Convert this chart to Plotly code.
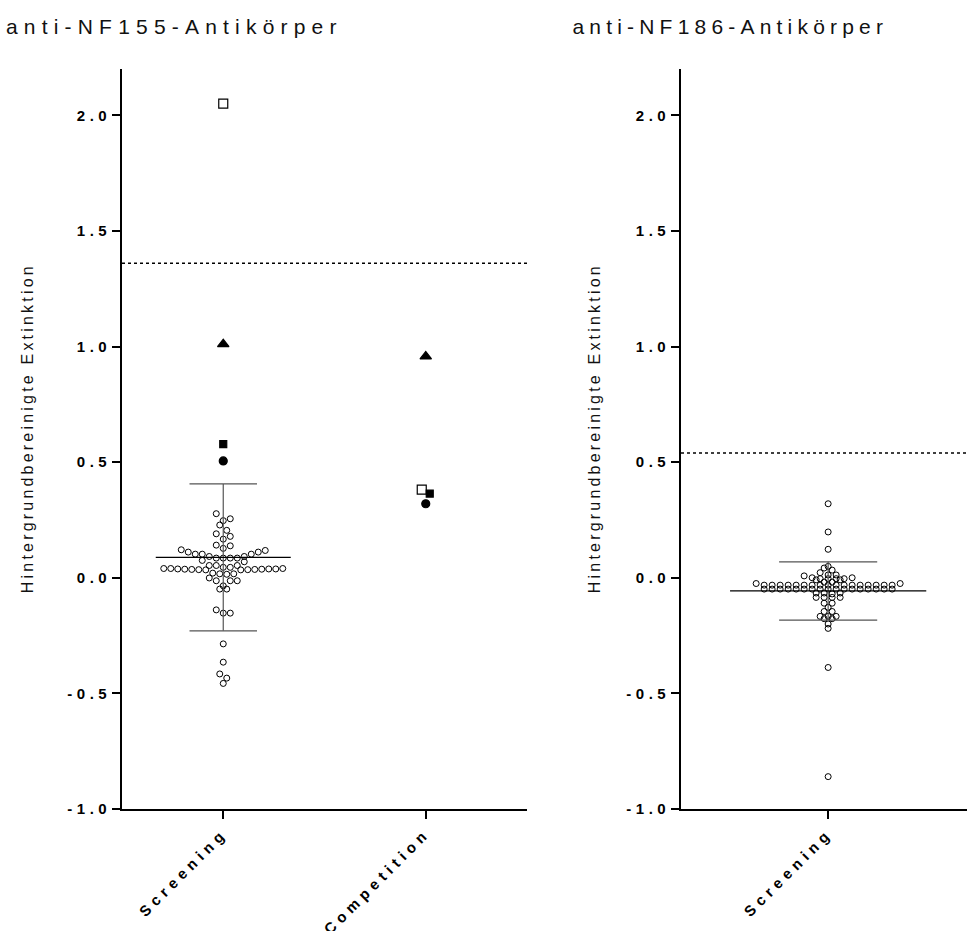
import numpy as np
import plotly.graph_objects as go

# ---------------- data ----------------
categories_nf155 = ["Screening", "Competition"]
categories_nf186 = ["Screening"]

# anti-NF155: negative screening sera (open circles)
nf155_screening_neg = [
    0.277, 0.255, 0.247, 0.228, 0.205, 0.190, 0.179, 0.167, 0.141, 0.138,
    0.127, 0.121, 0.118, 0.111, 0.111, 0.102, 0.102, 0.102, 0.092, 0.092,
    0.085, 0.085, 0.085, 0.085, 0.075, 0.069, 0.053, 0.053, 0.053, 0.045,
    0.045, 0.040, 0.040, 0.040, 0.038, 0.038, 0.038, 0.037, 0.037, 0.036,
    0.036, 0.035, 0.035, 0.034, 0.034, 0.020, 0.017, 0.017, 0.015, -0.001,
    -0.013, -0.013, -0.013, -0.035, -0.049, -0.049, -0.139, -0.153, -0.153,
    -0.286, -0.365, -0.416, -0.434, -0.457,
]
# four positive patients (screening and competition values)
patient_symbols = ["square-open", "triangle-up", "square", "circle"]
patient_sizes = [9, 10, 7, 8]
nf155_screening_pos = [2.050, 1.010, 0.578, 0.505]
nf155_competition = [0.381, 0.957, 0.364, 0.320]

# anti-NF186 screening sera
nf186_screening = [
    0.320, 0.198, 0.123, 0.049, 0.042, 0.033, 0.022, 0.012, 0.012, 0.008,
    0.000, 0.000, -0.004, -0.004, -0.004, -0.004, -0.009, -0.009, -0.019, -0.019,
    -0.025, -0.025,
    -0.032, -0.032, -0.032, -0.032, -0.032, -0.032, -0.032, -0.032, -0.032,
    -0.032, -0.032, -0.032, -0.032, -0.032, -0.032, -0.032, -0.032,
    -0.049, -0.049, -0.049, -0.049, -0.049, -0.049, -0.049, -0.049, -0.049,
    -0.049, -0.049, -0.049, -0.049, -0.049, -0.049, -0.049, -0.049,
    -0.066, -0.066, -0.066, -0.070, -0.085, -0.085, -0.085, -0.085,
    -0.110, -0.110, -0.128, -0.146, -0.146, -0.167, -0.167, -0.167,
    -0.177, -0.177, -0.200, -0.219, -0.388, -0.860,
]

cutoff_nf155 = 1.36
cutoff_nf186 = 0.54

ytick_vals = [-1.0, -0.5, 0.0, 0.5, 1.0, 1.5, 2.0]
ytick_text = ["-1.0", "-0.5", "0.0", "0.5", "1.0", "1.5", "2.0"]

titles = ["anti-NF155-Antikörper", "anti-NF186-Antikörper"]
ytitle = "Hintergrundbereinigte Extinktion"

# ---------------- layout geometry ----------------
W, H = 967, 931
M_T, M_B = 69, 122
PLOT_H = H - M_T - M_B
Y_RANGE = [-1.0, 2.2]
L_DOM = [122 / W, 527 / W]
R_DOM = [681 / W, 1.0]
L_RANGE = [-0.5, 1.5]
R_RANGE = [-0.5, (967 - 828.3) / 294.0]
PX_PER_CAT_L = (L_DOM[1] - L_DOM[0]) * W / (L_RANGE[1] - L_RANGE[0])
PX_PER_CAT_R = (R_DOM[1] - R_DOM[0]) * W / (R_RANGE[1] - R_RANGE[0])


def bin_offsets(values, h, origin, d):
    """Prism-like scatter layout: group values in rows of height h, spread each row symmetrically"""
    n = len(values)
    bins = {}
    for i, v in enumerate(values):
        bins.setdefault(int(np.floor((v - origin) / h + 1e-9)), []).append(i)
    offs = [0.0] * n
    for idx in bins.values():
        idx_sorted = sorted(idx, key=lambda i: values[i])
        m = len(idx_sorted)
        slots = []
        if m % 2 == 1:
            slots.append(0.0)
            k = 1
            while len(slots) < m:
                slots += [k, -k]
                k += 1
        else:
            k = 0.5
            while len(slots) < m:
                slots += [k, -k]
                k += 1
        for j, i in enumerate(idx_sorted):
            offs[i] = slots[j] * d
    return offs


fig = go.Figure()


def add_points(xc, vals, px_per_cat, h, origin, d, xa, ya, symbols=None, msizes=None):
    offs = bin_offsets(vals, h, origin, d)
    if symbols is None:
        fig.add_trace(go.Scatter(
            x=[xc + o / px_per_cat for o in offs], y=vals, mode="markers",
            xaxis=xa, yaxis=ya, showlegend=False, hoverinfo="y",
            marker=dict(symbol="circle-open", size=6, color="black", line=dict(width=1))))
    else:
        for k in range(len(vals)):
            fig.add_trace(go.Scatter(
                x=[xc + offs[k] / px_per_cat], y=[vals[k]], mode="markers",
                xaxis=xa, yaxis=ya, showlegend=False, hoverinfo="y",
                marker=dict(symbol=symbols[k], size=msizes[k], color="black",
                            line=dict(width=1.2, color="black"))))


def add_mean_sd(xc, vals, xa, ya):
    arr = np.array(vals)
    m = arr.mean()
    s = arr.std(ddof=1)
    fig.add_trace(go.Scatter(x=[xc, xc], y=[m - s, m + s], mode="lines", xaxis=xa, yaxis=ya,
                             showlegend=False, hoverinfo="skip", line=dict(color="#555555", width=1.2)))
    for yv in (m - s, m + s):
        fig.add_trace(go.Scatter(x=[xc - 1 / 6, xc + 1 / 6], y=[yv, yv], mode="lines", xaxis=xa, yaxis=ya,
                                 showlegend=False, hoverinfo="skip", line=dict(color="#555555", width=1.2)))
    fig.add_trace(go.Scatter(x=[xc - 1 / 3, xc + 1 / 3], y=[m, m], mode="lines", xaxis=xa, yaxis=ya,
                             showlegend=False, hoverinfo="skip", line=dict(color="black", width=1.2)))


# left panel
add_points(0, nf155_screening_neg, PX_PER_CAT_L, 0.04, -0.035, 7.0, "x", "y")
add_points(0, nf155_screening_pos, PX_PER_CAT_L, 0.03, 0.0, 8.0, "x", "y", patient_symbols, patient_sizes)
add_points(1, nf155_competition, PX_PER_CAT_L, 0.03, 0.0, 8.0, "x", "y", patient_symbols, patient_sizes)
add_mean_sd(0, nf155_screening_neg + nf155_screening_pos, "x", "y")

# right panel
add_points(0, nf186_screening, PX_PER_CAT_R, 0.017, -0.0405, 8.0, "x2", "y2")
add_mean_sd(0, nf186_screening, "x2", "y2")

# cutoff lines
fig.add_shape(type="line", xref="x domain", yref="y", x0=0, x1=1, y0=cutoff_nf155, y1=cutoff_nf155,
              line=dict(color="black", width=1.5, dash="3px,3px"))
fig.add_shape(type="line", xref="x2 domain", yref="y2", x0=0, x1=1, y0=cutoff_nf186, y1=cutoff_nf186,
              line=dict(color="black", width=1.5, dash="3px,3px"))

FONT = "Liberation Sans, Arial, sans-serif"
axis_common = dict(showline=True, linecolor="black", linewidth=1.6, ticks="outside",
                   tickcolor="black", tickwidth=1.6, showgrid=False, zeroline=False)
xtick_font = dict(size=15, family=FONT, weight="bold", color="black")
ytick_font = dict(size=15, family=FONT, weight="bold", color="black")

fig.update_layout(
    width=W, height=H,
    margin=dict(l=0, r=0, t=M_T, b=M_B, pad=0),
    paper_bgcolor="white", plot_bgcolor="white",
    font=dict(family=FONT, color="black"),
    xaxis=dict(domain=L_DOM, range=L_RANGE, anchor="y", tickvals=[0, 1], ticktext=categories_nf155,
               tickangle=-45, ticklen=8, tickfont=xtick_font, **axis_common),
    yaxis=dict(domain=[0, 1], range=Y_RANGE, anchor="x", tickvals=ytick_vals, ticktext=ytick_text,
               ticklen=8, tickfont=ytick_font, ticklabelstandoff=-2, **axis_common),
    xaxis2=dict(domain=R_DOM, range=R_RANGE, anchor="y2", tickvals=[0], ticktext=categories_nf186,
                tickangle=-45, ticklen=8, tickfont=xtick_font, **axis_common),
    yaxis2=dict(domain=[0, 1], range=Y_RANGE, anchor="x2", tickvals=ytick_vals, ticktext=ytick_text,
                ticklen=8, tickfont=ytick_font, ticklabelstandoff=-2, **axis_common),
)


def py(px_y):
    return 1 - (px_y - M_T) / PLOT_H


fig.add_annotation(text=titles[0], xref="paper", yref="paper", x=174.5 / W, y=py(27),
                   xanchor="center", yanchor="middle", showarrow=False,
                   font=dict(size=21, family=FONT, color="#111111"))
fig.add_annotation(text=titles[1], xref="paper", yref="paper", x=730 / W, y=py(27),
                   xanchor="center", yanchor="middle", showarrow=False,
                   font=dict(size=21, family=FONT, color="#111111"))
fig.add_annotation(text=ytitle, xref="paper", yref="paper", x=27 / W, y=py(428),
                   xanchor="center", yanchor="middle", showarrow=False, textangle=-90,
                   font=dict(size=16, family=FONT, color="#111111"))
fig.add_annotation(text=ytitle, xref="paper", yref="paper", x=594 / W, y=py(428),
                   xanchor="center", yanchor="middle", showarrow=False, textangle=-90,
                   font=dict(size=16, family=FONT, color="#111111"))

post = """
document.body.style.margin = '0';
document.body.style.overflow = 'hidden';
var gd = document.getElementById('{plot_id}');
function applyLS(){
  gd.querySelectorAll('.xtick text, .x2tick text').forEach(function(e){e.style.letterSpacing='5px';});
  gd.querySelectorAll('.ytick text, .y2tick text').forEach(function(e){e.style.letterSpacing='4.5px';});
  gd.querySelectorAll('g.annotation[data-index="0"] text').forEach(function(e){e.style.letterSpacing='6.2px';});
  gd.querySelectorAll('g.annotation[data-index="1"] text').forEach(function(e){e.style.letterSpacing='5.2px';});
  gd.querySelectorAll('g.annotation[data-index="2"] text, g.annotation[data-index="3"] text').forEach(function(e){e.style.letterSpacing='3.2px';});
}
applyLS();
gd.on('plotly_afterplot', applyLS);
"""

fig.write_html("out.html", post_script=post, config={"displayModeBar": False})
